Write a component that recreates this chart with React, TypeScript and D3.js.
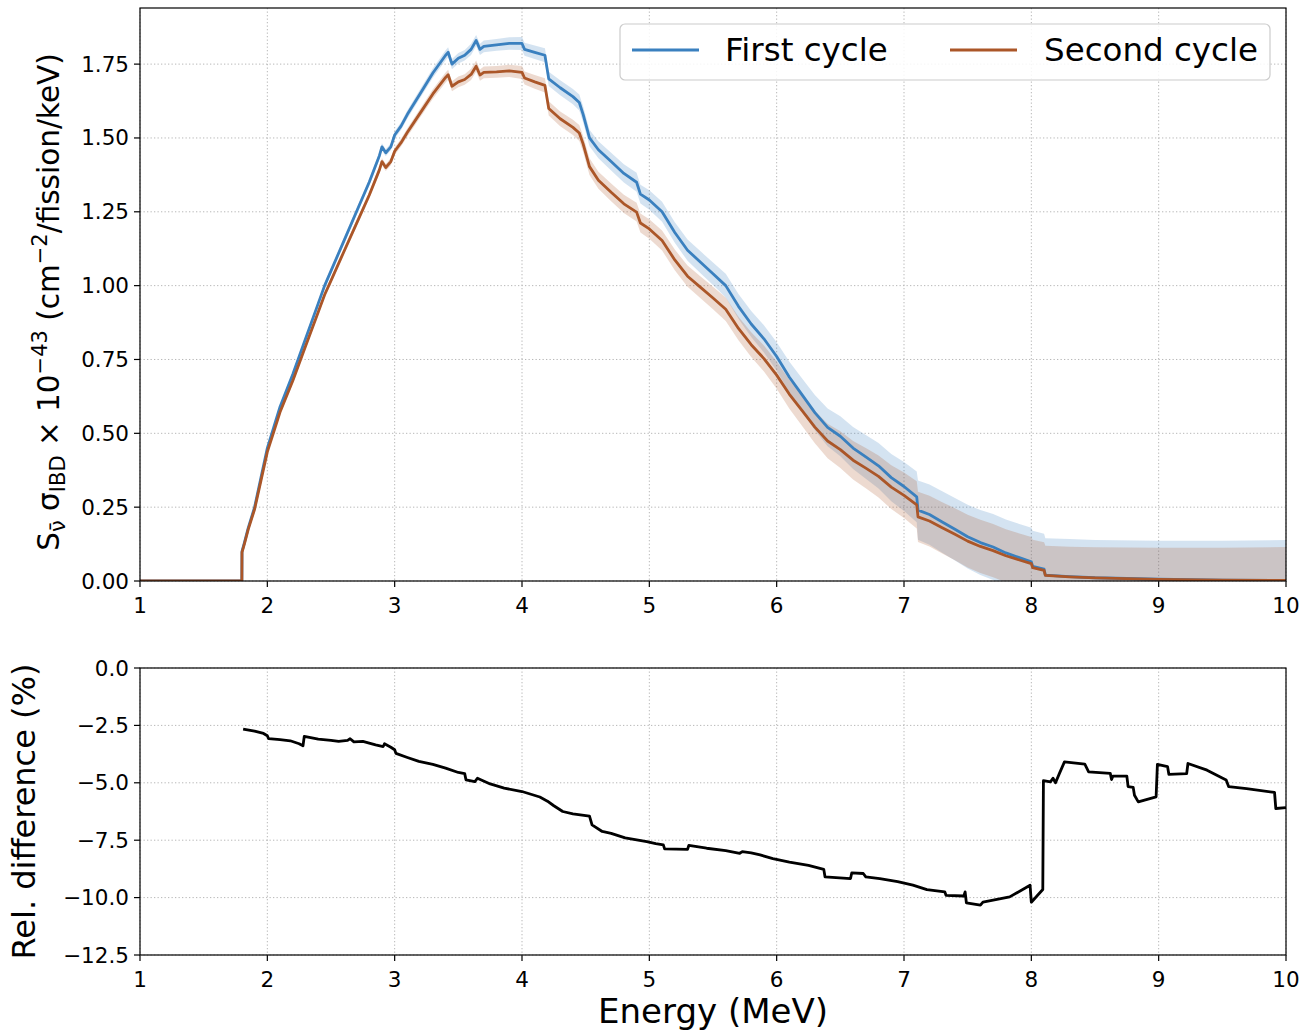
import React from "react";
import * as d3 from "d3";

// ---- Top panel data (energy in MeV) ----
const energy = [
  1.0, 1.8, 1.801, 1.82, 1.85, 1.9, 1.95, 2.0, 2.05, 2.1,
  2.2, 2.3, 2.4, 2.45, 2.5, 2.6, 2.7, 2.8, 2.88, 2.9,
  2.93, 2.97, 3.0, 3.05, 3.1, 3.2, 3.3, 3.4, 3.42, 3.45,
  3.5, 3.55, 3.6, 3.64, 3.67, 3.7, 3.8, 3.9, 4.0, 4.02,
  4.1, 4.18, 4.21, 4.3, 4.4, 4.45, 4.48, 4.53, 4.6, 4.7,
  4.8, 4.9, 4.93, 5.0, 5.1, 5.2, 5.3, 5.4, 5.5, 5.6,
  5.7, 5.8, 5.9, 6.0, 6.1, 6.2, 6.3, 6.4, 6.5, 6.6,
  6.7, 6.8, 6.9, 7.0, 7.1, 7.11, 7.2, 7.3, 7.4, 7.5,
  7.6, 7.7, 7.8, 7.9, 8.0, 8.01, 8.1, 8.11, 8.3, 8.5,
  9.0, 9.5, 10.0,
];

const firstCycle = [
  0, 0, 0.10, 0.13, 0.18, 0.25, 0.35, 0.45, 0.52, 0.59,
  0.70, 0.82, 0.94, 1.00, 1.05, 1.15, 1.25, 1.35, 1.44, 1.47,
  1.45, 1.47, 1.51, 1.54, 1.58, 1.65, 1.72, 1.78, 1.79, 1.75,
  1.77, 1.78, 1.80, 1.83, 1.80, 1.81, 1.815, 1.82, 1.82, 1.80,
  1.79, 1.78, 1.70, 1.67, 1.64, 1.62, 1.58, 1.50, 1.46, 1.42,
  1.38, 1.35, 1.31, 1.29, 1.25, 1.18, 1.12, 1.08, 1.04, 1.00,
  0.93, 0.87, 0.82, 0.76, 0.69, 0.63, 0.57, 0.52, 0.49, 0.45,
  0.42, 0.39, 0.35, 0.32, 0.285, 0.24, 0.225, 0.20, 0.175, 0.15,
  0.13, 0.115, 0.095, 0.08, 0.065, 0.05, 0.04, 0.02, 0.015, 0.011,
  0.006, 0.003, 0.002,
];

const secondCycle = [
  0, 0, 0.097, 0.126, 0.175, 0.243, 0.34, 0.437, 0.504, 0.572,
  0.678, 0.795, 0.911, 0.969, 1.017, 1.114, 1.21, 1.306, 1.392, 1.42,
  1.40, 1.42, 1.455, 1.484, 1.519, 1.584, 1.649, 1.705, 1.714, 1.675,
  1.69, 1.698, 1.715, 1.743, 1.713, 1.722, 1.724, 1.727, 1.722, 1.703,
  1.69, 1.678, 1.60, 1.565, 1.536, 1.517, 1.48, 1.403, 1.357, 1.316,
  1.277, 1.249, 1.212, 1.192, 1.153, 1.087, 1.032, 0.995, 0.958, 0.92,
  0.855, 0.80, 0.753, 0.697, 0.632, 0.577, 0.521, 0.474, 0.445, 0.409,
  0.382, 0.354, 0.318, 0.29, 0.258, 0.217, 0.203, 0.18, 0.158, 0.135,
  0.117, 0.103, 0.0855, 0.072, 0.059, 0.045, 0.036, 0.019, 0.0143, 0.0105,
  0.0057, 0.0029, 0.0019,
];

const firstUnc = [
  0, 0, 0.005, 0.005, 0.006, 0.006, 0.007, 0.007, 0.008, 0.008,
  0.009, 0.009, 0.01, 0.01, 0.01, 0.011, 0.011, 0.012, 0.012, 0.012,
  0.012, 0.012, 0.013, 0.013, 0.014, 0.015, 0.016, 0.017, 0.017, 0.017,
  0.018, 0.018, 0.019, 0.019, 0.019, 0.02, 0.02, 0.021, 0.022, 0.022,
  0.023, 0.024, 0.024, 0.025, 0.026, 0.027, 0.027, 0.028, 0.029, 0.03,
  0.031, 0.032, 0.032, 0.033, 0.034, 0.035, 0.036, 0.037, 0.038, 0.04,
  0.042, 0.044, 0.046, 0.048, 0.052, 0.056, 0.06, 0.064, 0.068, 0.071,
  0.074, 0.077, 0.08, 0.083, 0.086, 0.10, 0.102, 0.104, 0.106, 0.108,
  0.11, 0.112, 0.113, 0.114, 0.115, 0.12, 0.12, 0.125, 0.127, 0.128,
  0.13, 0.133, 0.137,
];

const secondUnc = [
  0, 0, 0.005, 0.005, 0.006, 0.006, 0.007, 0.007, 0.008, 0.008,
  0.009, 0.009, 0.01, 0.01, 0.01, 0.011, 0.011, 0.012, 0.012, 0.012,
  0.012, 0.012, 0.013, 0.013, 0.014, 0.015, 0.016, 0.017, 0.017, 0.017,
  0.018, 0.018, 0.019, 0.019, 0.019, 0.02, 0.02, 0.021, 0.022, 0.022,
  0.023, 0.024, 0.024, 0.025, 0.026, 0.027, 0.027, 0.028, 0.029, 0.03,
  0.031, 0.032, 0.032, 0.033, 0.034, 0.035, 0.036, 0.037, 0.038, 0.04,
  0.040, 0.042, 0.044, 0.046, 0.049, 0.052, 0.055, 0.058, 0.062, 0.065,
  0.068, 0.071, 0.074, 0.077, 0.08, 0.085, 0.086, 0.087, 0.088, 0.089,
  0.09, 0.09, 0.09, 0.09, 0.09, 0.095, 0.095, 0.100, 0.102, 0.104,
  0.107, 0.11, 0.113,
];

// ---- Bottom panel data: relative difference (%) ----
const diffEnergy = [
  1.81, 1.9, 1.97, 2.0, 2.01, 2.1, 2.18, 2.25, 2.28, 2.29,
  2.4, 2.5, 2.56, 2.63, 2.65, 2.68, 2.75, 2.85, 2.91, 2.92,
  2.97, 3.0, 3.01, 3.1, 3.19, 3.3, 3.4, 3.5, 3.55, 3.56,
  3.63, 3.65, 3.75, 3.86, 4.0, 4.14, 4.2, 4.25, 4.32, 4.4,
  4.53, 4.55, 4.63, 4.7, 4.81, 4.98, 5.05, 5.11, 5.12, 5.3,
  5.31, 5.45, 5.6, 5.71, 5.73, 5.8, 5.87, 5.97, 6.1, 6.25,
  6.37, 6.38, 6.58, 6.59, 6.68, 6.7, 6.81, 6.95, 7.07, 7.18,
  7.32, 7.33, 7.47, 7.48, 7.49, 7.6, 7.62, 7.83, 7.99, 8.0,
  8.09, 8.095, 8.15, 8.17, 8.19, 8.22, 8.26, 8.42, 8.45, 8.62,
  8.63, 8.64, 8.75, 8.76, 8.8, 8.81, 8.84, 8.98, 8.99, 9.07,
  9.08, 9.22, 9.23, 9.38, 9.53, 9.55, 9.69, 9.91, 9.92, 10.0,
];

const relDiff = [
  -2.66, -2.75, -2.85, -2.95, -3.08, -3.12, -3.17, -3.3, -3.39, -2.98,
  -3.1, -3.15, -3.2, -3.15, -3.08, -3.22, -3.2, -3.35, -3.42, -3.3,
  -3.45, -3.56, -3.72, -3.9, -4.07, -4.2, -4.36, -4.55, -4.6, -4.87,
  -4.95, -4.8, -5.05, -5.23, -5.38, -5.62, -5.8, -6.0, -6.25, -6.35,
  -6.45, -6.83, -7.12, -7.2, -7.4, -7.56, -7.65, -7.7, -7.88, -7.9,
  -7.73, -7.85, -7.95, -8.07, -8.0, -8.05, -8.14, -8.3, -8.45, -8.6,
  -8.77, -9.1, -9.17, -8.92, -8.95, -9.1, -9.17, -9.3, -9.46, -9.65,
  -9.75, -9.9, -9.93, -9.75, -10.23, -10.33, -10.2, -9.97, -9.46, -10.2,
  -9.65, -4.91, -4.96, -4.8, -5.0, -4.6, -4.09, -4.19, -4.52, -4.59,
  -4.86, -4.71, -4.71, -5.17, -5.2, -5.54, -5.83, -5.61, -4.2, -4.3,
  -4.63, -4.6, -4.16, -4.45, -4.88, -5.17, -5.25, -5.42, -6.12, -6.08,
];

const xTicks = [1, 2, 3, 4, 5, 6, 7, 8, 9, 10];
const topYTicks = [0, 0.25, 0.5, 0.75, 1.0, 1.25, 1.5, 1.75];
const bottomYTicks = [0, -2.5, -5, -7.5, -10, -12.5];
const seriesNames = ["First cycle", "Second cycle"];

const FONT = "DejaVu Sans, Verdana, sans-serif";
const BLUE = "#3a80bf";
const BROWN = "#ab5628";
const GRID = "#b7b7b7";

export default function App() {
  const W = 1313;
  const H = 1034;
  const left = 140;
  const right = 1286;
  const topT = 8;
  const topB = 581;
  const botT = 668;
  const botB = 955;
  const tickFont = 21.5;

  const x = d3.scaleLinear().domain([1, 10]).range([left, right]);
  const yTop = d3.scaleLinear().domain([0, 1.94]).range([topB, topT]);
  const yBot = d3.scaleLinear().domain([-12.5, 0]).range([botB, botT]);

  const idx = d3.range(energy.length);
  const area1 = d3
    .area<number>()
    .x((i) => x(energy[i]))
    .y0((i) => yTop(firstCycle[i] - firstUnc[i]))
    .y1((i) => yTop(firstCycle[i] + firstUnc[i]));
  const area2 = d3
    .area<number>()
    .x((i) => x(energy[i]))
    .y0((i) => yTop(secondCycle[i] - secondUnc[i]))
    .y1((i) => yTop(secondCycle[i] + secondUnc[i]));
  const line1 = d3
    .line<number>()
    .x((i) => x(energy[i]))
    .y((i) => yTop(firstCycle[i]));
  const line2 = d3
    .line<number>()
    .x((i) => x(energy[i]))
    .y((i) => yTop(secondCycle[i]));
  const lineDiff = d3
    .line<number>()
    .x((i) => x(diffEnergy[i]))
    .y((i) => yBot(relDiff[i]));

  const fmtTop = d3.format(".2f");
  const fmtBot = (v: number) => d3.format(".1f")(v).replace("-", "\u2212");

  const tickLen = 6;

  const xAxis = (y0: number, yGridTop: number, keyp: string) => (
    <g key={keyp}>
      {xTicks.map((t) => (
        <g key={t}>
          <line x1={x(t)} x2={x(t)} y1={yGridTop} y2={y0} stroke={GRID} strokeWidth={1} strokeDasharray="1.3,2.2" />
          <line x1={x(t)} x2={x(t)} y1={y0} y2={y0 + tickLen} stroke="#000" strokeWidth={1.2} />
          <text x={x(t)} y={y0 + 32} textAnchor="middle" fontSize={tickFont} fontFamily={FONT} fill="#000">
            {t}
          </text>
        </g>
      ))}
    </g>
  );

  return (
    <svg width={W} height={H} style={{ display: "block", position: "absolute", left: 0, top: 0 }}>
      <defs>
        <clipPath id="clipTop">
          <rect x={left} y={topT} width={right - left} height={topB - topT} />
        </clipPath>
        <clipPath id="clipBot">
          <rect x={left} y={botT} width={right - left} height={botB - botT} />
        </clipPath>
      </defs>
      <rect x={0} y={0} width={W} height={H} fill="#fff" />

      {/* ---------- TOP PANEL ---------- */}
      {xAxis(topB, topT, "xt")}
      {topYTicks.map((t) => (
        <g key={t}>
          <line x1={left} x2={right} y1={yTop(t)} y2={yTop(t)} stroke={GRID} strokeWidth={1} strokeDasharray="1.3,2.2" />
          <line x1={left - tickLen} x2={left} y1={yTop(t)} y2={yTop(t)} stroke="#000" strokeWidth={1.2} />
          <text x={left - 11} y={yTop(t) + 7.5} textAnchor="end" fontSize={tickFont} fontFamily={FONT} fill="#000">
            {fmtTop(t)}
          </text>
        </g>
      ))}
      <g clipPath="url(#clipTop)">
        <path d={area1(idx) || ""} fill={BLUE} fillOpacity={0.22} stroke="none" />
        <path d={area2(idx) || ""} fill={BROWN} fillOpacity={0.22} stroke="none" />
        <path d={line1(idx) || ""} fill="none" stroke={BLUE} strokeWidth={2.8} strokeLinejoin="round" />
        <path d={line2(idx) || ""} fill="none" stroke={BROWN} strokeWidth={2.8} strokeLinejoin="round" />
      </g>
      <rect x={left} y={topT} width={right - left} height={topB - topT} fill="none" stroke="#000" strokeWidth={1.2} />

      {/* Legend */}
      <g>
        <rect x={620} y={24} width={650} height={56} rx={5} fill="#fff" fillOpacity={0.85} stroke="#cccccc" strokeWidth={1.2} />
        <line x1={632} x2={699} y1={50} y2={50} stroke={BLUE} strokeWidth={2.8} />
        <text x={725} y={61} fontSize={32.5} fontFamily={FONT} fill="#000">{seriesNames[0]}</text>
        <line x1={950} x2={1017} y1={50} y2={50} stroke={BROWN} strokeWidth={2.8} />
        <text x={1044} y={61} fontSize={32.5} fontFamily={FONT} fill="#000">{seriesNames[1]}</text>
      </g>

      {/* Top y label */}
      <text transform={`translate(59,302) rotate(-90)`} textAnchor="middle" fontSize={29.5} fontFamily={FONT} fill="#000">
        <tspan>S</tspan>
        <tspan fontSize={21} dy={6}>{"\u03bd\u0304"}</tspan>
        <tspan dy={-6}>{" \u03c3"}</tspan>
        <tspan fontSize={21} dy={6}>IBD</tspan>
        <tspan dy={-6}>{" \u00d7 10"}</tspan>
        <tspan fontSize={21} dy={-12}>{"\u221243"}</tspan>
        <tspan dy={12}>{" (cm"}</tspan>
        <tspan fontSize={21} dy={-12}>{"\u22122"}</tspan>
        <tspan dy={12}>{"/fission/keV)"}</tspan>
      </text>

      {/* ---------- BOTTOM PANEL ---------- */}
      {xAxis(botB, botT, "xb")}
      {bottomYTicks.map((t) => (
        <g key={t}>
          <line x1={left} x2={right} y1={yBot(t)} y2={yBot(t)} stroke={GRID} strokeWidth={1} strokeDasharray="1.3,2.2" />
          <line x1={left - tickLen} x2={left} y1={yBot(t)} y2={yBot(t)} stroke="#000" strokeWidth={1.2} />
          <text x={left - 11} y={yBot(t) + 7.5} textAnchor="end" fontSize={tickFont} fontFamily={FONT} fill="#000">
            {fmtBot(t)}
          </text>
        </g>
      ))}
      <g clipPath="url(#clipBot)">
        <path d={lineDiff(d3.range(diffEnergy.length)) || ""} fill="none" stroke="#000" strokeWidth={2.8} strokeLinejoin="round" />
      </g>
      <rect x={left} y={botT} width={right - left} height={botB - botT} fill="none" stroke="#000" strokeWidth={1.2} />

      <text transform={`translate(35,${(botT + botB) / 2}) rotate(-90)`} textAnchor="middle" fontSize={32} fontFamily={FONT} fill="#000">
        Rel. difference (%)
      </text>
      <text x={(left + right) / 2} y={1023} textAnchor="middle" fontSize={34} fontFamily={FONT} fill="#000">
        Energy (MeV)
      </text>
    </svg>
  );
}
